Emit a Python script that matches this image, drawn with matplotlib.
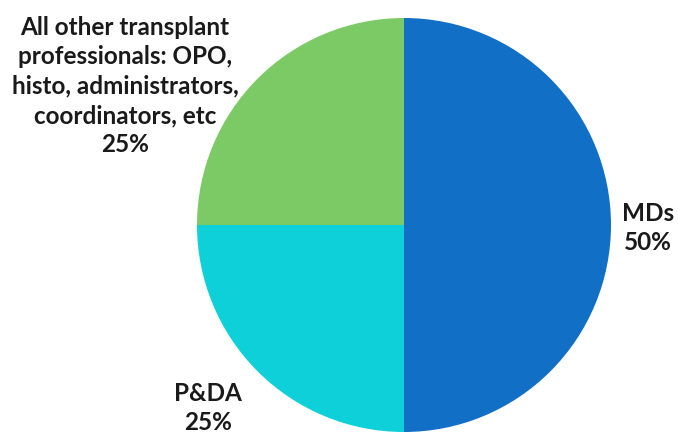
import matplotlib
matplotlib.use("Agg")
import matplotlib.pyplot as plt

# data
categories = ["MDs", "P&DA",
              "All other transplant\nprofessionals: OPO,\nhisto, administrators,\ncoordinators, etc"]
shares = [50, 25, 25]
colors = ["#116FC6", "#0DD0D8", "#7CCA66"]

# label anchor positions in pixels (x, y from top)
label_pos = [(648, 228), (208, 408), (125, 86)]

plt.rcParams['font.family'] = ['Lato', 'DejaVu Sans']

fig = plt.figure(figsize=(6.78, 4.36), dpi=100)
ax = fig.add_axes([0, 0, 1, 1])

ax.pie(shares, colors=colors, startangle=90, counterclock=False,
       center=(404, 436 - 225), radius=207, frame=True,
       wedgeprops=dict(linewidth=0))
ax.set_xlim(0, 678)
ax.set_ylim(0, 436)
ax.set_aspect('equal')
ax.axis('off')

for cat, s, (x, y) in zip(categories, shares, label_pos):
    ax.text(x, 436 - y, "%s\n%d%%" % (cat, s), ha='center', va='center',
            fontsize=17.5, fontweight='bold', color='#1a1a1a', linespacing=1.34)

fig.savefig("out.png", dpi=100)
